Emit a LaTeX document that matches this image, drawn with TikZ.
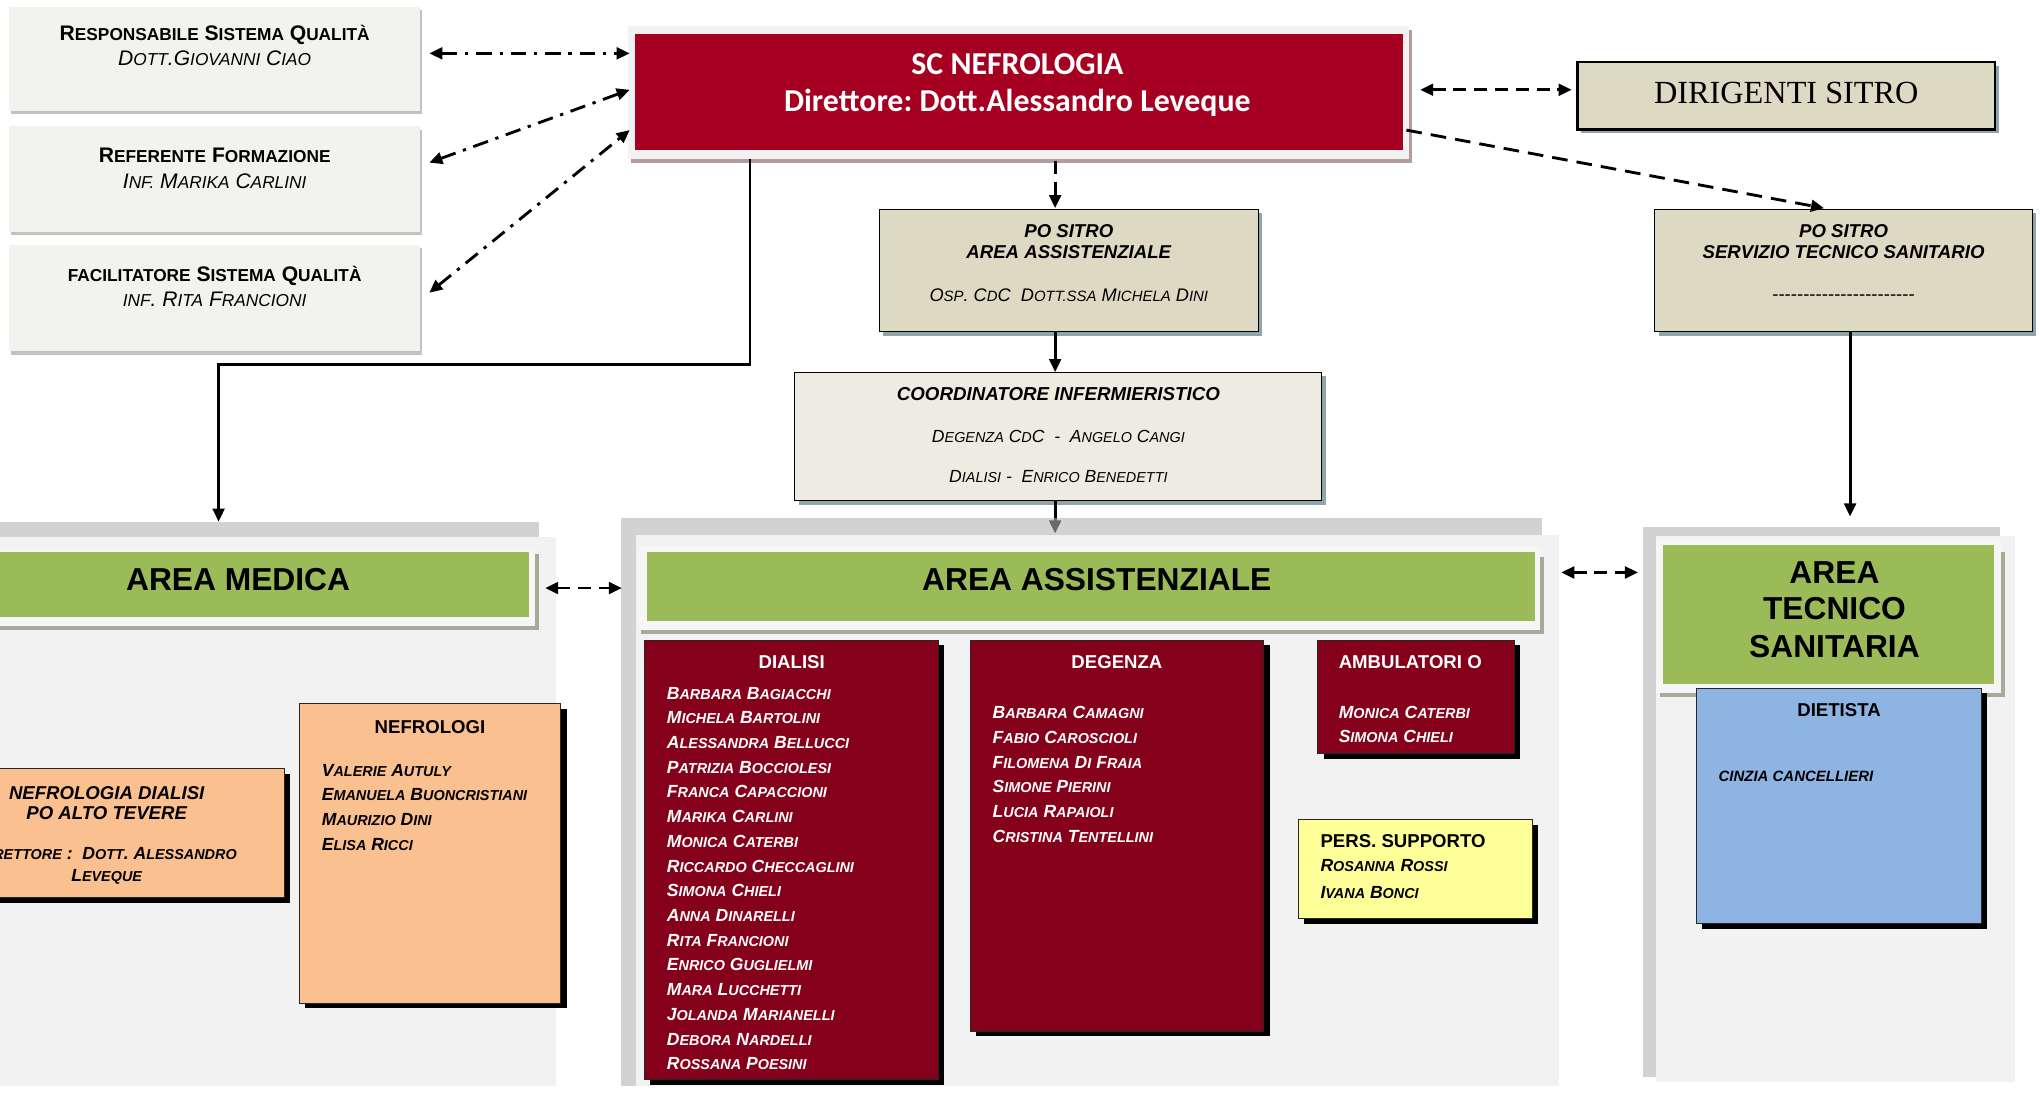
\documentclass[tikz,border=0pt]{standalone}
\usepackage{fontspec}
\setmainfont{Liberation Sans}
\newfontfamily\carlito{Carlito}
\newfontfamily\timesf{Liberation Serif}
\usetikzlibrary{arrows.meta,shadows,calc}
\frenchspacing
\definecolor{boxg}{HTML}{F2F2EE}
\definecolor{lgsh}{HTML}{C2C2C2}
\definecolor{frameg}{HTML}{F2F2F2}
\definecolor{scred}{HTML}{A50021}
\definecolor{scsh}{HTML}{B59C9C}
\definecolor{tan}{HTML}{DDD9C3}
\definecolor{tansh}{HTML}{8EA5AE}
\definecolor{coof}{HTML}{EEECE1}
\definecolor{pnlg}{HTML}{D2D2D2}
\definecolor{pnll}{HTML}{F2F2F2}
\definecolor{grn}{HTML}{9BBB59}
\definecolor{grnsh}{HTML}{A6AA96}
\definecolor{grnfr}{HTML}{F6F6F6}
\definecolor{dred}{HTML}{85001B}
\definecolor{orng}{HTML}{FAC090}
\definecolor{yell}{HTML}{FFFF99}
\definecolor{blu}{HTML}{8EB4E3}
\makeatletter
\newcommand\fsz[1]{\fontsize{#1}{#1}\selectfont}
\newcommand\sm[1]{{\fontsize{\fpeval{0.82*\f@size}}{\f@baselineskip}\selectfont\MakeUppercase{#1}}}
\def\SC#1{\SC@a#1 \@nil}
\def\SC@a#1 #2\@nil{\SC@w#1\@nil\ifx\relax#2\relax\else\space\SC@a#2\@nil\fi}
\def\SC@w#1#2\@nil{#1\sm{#2}}
\newcommand\SCx[1]{\expandafter\SC\expandafter{#1}}
\newcommand\hy{-{}}
\makeatother
\begin{document}
\begin{tikzpicture}[x=1pt,y=-1pt,
 every node/.style={inner sep=0pt,outer sep=0pt},
 rbox/.style={rectangle,anchor=north west},
 t/.style={anchor=base},
 tw/.style={anchor=base west},
 lsh/.style={drop shadow={shadow xshift=1.5pt,shadow yshift=-3pt,fill=lgsh,opacity=1}},
 bsh/.style={drop shadow={shadow xshift=4.5pt,shadow yshift=-4pt,fill=black,opacity=1}},
 tsh/.style={drop shadow={shadow xshift=3pt,shadow yshift=-3pt,fill=tansh,opacity=1}},
 lbox/.style={rbox,draw=black!85,line width=0.8pt,bsh},
 tip/.style={-{Triangle[length=10pt,width=9pt]}},
 tips/.style={{Triangle[length=10pt,width=9pt]}-{Triangle[length=10pt,width=9pt]}},
 conn/.style={line width=2.2pt},
 dd/.style={conn,dash pattern=on 12pt off 6pt on 2.5pt off 6pt},
 dsh/.style={conn,dash pattern=on 10pt off 6pt},
 ftitle/.style={font=\fsz{16.2}\bfseries},
 fsub/.style={font=\fsz{16.2}\itshape},
 fbi/.style={font=\fsz{14.3}\bfseries\itshape},
 fi/.style={font=\fsz{14}\itshape},
 fb/.style={font=\fsz{14.3}\bfseries},
 fname/.style={font=\fsz{13.5}\bfseries\itshape},
 farea/.style={font=\fsz{24.4}\bfseries},
]
\useasboundingbox (0,0) rectangle (1568,840);
\clip (0,0) rectangle (1568,840);
\fill[white] (0,0) rectangle (1568,840);

% ---------- panels ----------
\node[rbox,fill=pnlg,minimum width=454pt,minimum height=434pt] (medB) at (-40,401) {};
\node[rbox,fill=pnll,minimum width=467pt,minimum height=422pt] (med) at (-40,413) {};
\node[rbox,fill=pnlg,minimum width=708pt,minimum height=437pt] (assB) at (477,398) {};
\node[rbox,fill=pnll,minimum width=709pt,minimum height=424pt] (ass) at (489,411) {};
\node[rbox,fill=pnlg,minimum width=274pt,minimum height=423pt] (tecB) at (1263,405) {};
\node[rbox,fill=pnll,minimum width=276pt,minimum height=420pt] (tec) at (1273,412) {};

% green bars
\fill[grnsh] (-40,426) rectangle (414,484);
\fill[grnfr] (-40,421) rectangle (411,481);
\node[rbox,fill=grn,minimum width=446.5pt,minimum height=50pt] (medbar) at (-40,424) {};
\fill[grnsh] (493,428) rectangle (1187,487);
\fill[grnfr] (491,420) rectangle (1184,484);
\node[rbox,fill=grn,minimum width=683pt,minimum height=53pt] (assbar) at (497,424) {};
\fill[grnsh] (1276,424) rectangle (1541,536);
\fill[grnfr] (1273,414) rectangle (1538,533);
\node[rbox,fill=grn,minimum width=255pt,minimum height=107pt] (tecbar) at (1278,419) {};

\node[t,farea] (medt) at (183,453.5) {AREA MEDICA};
\node[t,farea] (asst) at (843,454) {AREA ASSISTENZIALE};
\node[t,farea] (tect1) at (1410,448.4) {AREA};
\node[t,farea] (tect2) at (1410,476.5) {TECNICO};
\node[t,farea] (tect3) at (1410,505.2) {SANITARIA};

% ---------- top left boxes ----------
\node[rbox,fill=boxg,lsh,minimum width=316pt,minimum height=80pt] (b1) at (7,5) {};
\node[rbox,fill=boxg,lsh,minimum width=316pt,minimum height=81pt] (b2) at (7,97) {};
\node[rbox,fill=boxg,lsh,minimum width=316pt,minimum height=82pt] (b3) at (7,188) {};
\node[t,ftitle] (b1t) at (165,31.5) {\SC{Responsabile Sistema Qualità}};
\node[t,fsub] (b1s) at (165,50.7) {D\sm{ott}.G\sm{iovanni} C\sm{iao}};
\node[t,ftitle] (b2t) at (165,124.8) {\SC{Referente Formazione}};
\node[t,fsub] (b2s) at (165,144.7) {\SC{Inf. Marika Carlini}};
\node[t,ftitle] (b3t) at (165,216.5) {\sm{facilitatore} S\sm{istema} Q\sm{ualità}};
\node[t,fsub] (b3s) at (165,235.7) {\sm{inf}. R\sm{ita} F\sm{rancioni}};

% ---------- SC Nefrologia ----------
\node[rbox,fill=frameg,drop shadow={shadow xshift=2pt,shadow yshift=-3pt,fill=scsh,opacity=1},minimum width=600pt,minimum height=102pt] (scf) at (483,20) {};
\node[rbox,fill=scred,minimum width=590pt,minimum height=89pt] (sc) at (488,26) {};
\node[t,font=\carlito\bfseries\fsz{24.5},text=white] (sct1) at (782,56.9) {SC NEFROLOGIA};
\node[t,font=\carlito\bfseries\fsz{24.5},text=white] (sct2) at (782,85.9) {Direttore: Dott.Alessandro Leveque};

% ---------- Dirigenti ----------
\node[rbox,fill=tan,draw=black,line width=1.8pt,tsh,minimum width=321pt,minimum height=52pt] (dir) at (1212.5,47.5) {};
\node[t,font=\timesf\fsz{24.8}] (dirt) at (1373,79.4) {DIRIGENTI SITRO};

% ---------- PO SITRO ----------
\node[rbox,fill=tan,draw=black,line width=0.8pt,tsh,minimum width=291pt,minimum height=94pt] (poa) at (676,161) {};
\node[t,fbi] (poa1) at (821.5,182.4) {PO SITRO};
\node[t,fbi] (poa2) at (821.5,198.6) {AREA ASSISTENZIALE};
\node[t,fi] (poa3) at (821.5,231.4) {O\sm{sp}. C\sm{d}C\ \ D\sm{ott.ssa} M\sm{ichela} D\sm{ini}};

\node[rbox,fill=tan,draw=black,line width=0.8pt,tsh,minimum width=290pt,minimum height=94pt] (pos) at (1272,161) {};
\node[t,fbi] (pos1) at (1417,182.4) {PO SITRO};
\node[t,fbi] (pos2) at (1417,198.6) {SERVIZIO TECNICO SANITARIO};
\node[t,font=\fsz{14.3}] (pos3) at (1417,231) {\hy\hy\hy\hy\hy\hy\hy\hy\hy\hy\hy\hy\hy\hy\hy\hy\hy\hy\hy\hy\hy\hy\hy};

% ---------- Coordinatore ----------
\node[rbox,fill=coof,draw=black,line width=0.8pt,tsh,minimum width=405pt,minimum height=99pt] (coo) at (611,286) {};
\node[t,font=\fsz{14.4}\bfseries\itshape] (coo1) at (813.5,307.5) {COORDINATORE INFERMIERISTICO};
\node[t,font=\fsz{13.5}\itshape] (coo2) at (813.5,340.3) {D\sm{egenza} C\sm{d}C\ \ -\ \ A\sm{ngelo} C\sm{angi}};
\node[t,font=\fsz{13.5}\itshape] (coo3) at (813.5,371) {D\sm{ialisi} -\ \ E\sm{nrico} B\sm{enedetti}};

% ---------- list boxes ----------
\node[lbox,fill=dred,minimum width=225.6pt,minimum height=338pt] (dia) at (495.4,492) {};
\node[t,fb,text=white] (diat) at (608.5,513.7) {DIALISI};
\foreach \n [count=\i from 0] in {Barbara Bagiacchi,Michela Bartolini,Alessandra Bellucci,Patrizia Bocciolesi,Franca Capaccioni,Marika Carlini,Monica Caterbi,Riccardo Checcaglini,Simona Chieli,Anna Dinarelli,Rita Francioni,Enrico Guglielmi,Mara Lucchetti,Jolanda Marianelli,Debora Nardelli,Rossana Poesini}
  \node[tw,fname,text=white] (dia\i) at (512.6,{537.3+19*\i}) {\SCx{\n}};

\node[lbox,fill=dred,minimum width=225.7pt,minimum height=300.5pt] (deg) at (745.7,492) {};
\node[t,fb,text=white] (degt) at (858.5,513.7) {DEGENZA};
\foreach \n [count=\i from 0] in {Barbara Camagni,Fabio Caroscioli,Filomena Di Fraia,Simone Pierini,Lucia Rapaioli,Cristina Tentellini}
  \node[tw,fname,text=white] (deg\i) at (763,{552.1+19.1*\i}) {\SCx{\n}};

\node[lbox,fill=dred,minimum width=151pt,minimum height=87pt] (amb) at (1013,492) {};
\node[tw,fb,text=white] (ambt) at (1029,513.7) {AMBULATORI O};
\node[tw,fname,text=white] (amb0) at (1029,552) {\SC{Monica Caterbi}};
\node[tw,fname,text=white] (amb1) at (1029,571) {\SC{Simona Chieli}};

\node[lbox,fill=yell,minimum width=180pt,minimum height=76pt] (sup) at (998,630) {};
\node[tw,fb] (supt) at (1015,651.3) {PERS. SUPPORTO};
\node[tw,fname] (sup0) at (1015,670) {\SC{Rosanna Rossi}};
\node[tw,fname] (sup1) at (1015,690.5) {\SC{Ivana Bonci}};

\node[lbox,fill=orng,minimum width=201pt,minimum height=230pt] (nef) at (230,541) {};
\node[t,fb] (neft) at (330.5,563.7) {NEFROLOGI};
\node[tw,fname] (nef0) at (247.4,596.5) {\SC{Valerie Autuly}};
\node[tw,fname] (nef1) at (247.4,615.4) {\SC{Emanuela Buoncristiani}};
\node[tw,fname] (nef2) at (247.4,634.6) {\SC{Maurizio Dini}};
\node[tw,fname] (nef3) at (247.4,653.9) {\SC{Elisa Ricci}};

\node[lbox,fill=orng,minimum width=274.7pt,minimum height=99pt] (ndi) at (-56,591) {};
\node[t,fbi] (ndi1) at (82,614.4) {NEFROLOGIA DIALISI};
\node[t,fbi] (ndi2) at (82,629.8) {PO ALTO TEVERE};
\node[t,fname] (ndi3) at (82,661) {D\sm{irettore} :\ \ D\sm{ott}. A\sm{lessandro}};
\node[t,fname] (ndi4) at (82,677.7) {L\sm{eveque}};

\node[lbox,fill=blu,minimum width=219pt,minimum height=181pt] (die) at (1304,529) {};
\node[t,fb] (diet) at (1413.5,551) {DIETISTA};
\node[tw,font=\fsz{11.5}\bfseries\itshape] (die0) at (1321,600.8) {CINZIA CANCELLIERI};

% ---------- connectors ----------
\draw[dd,tips] ($(b1.north east)+(7,36)$) -- ($(scf.north west)+(1,21)$);
\draw[dd,tips] ($(b2.north east)+(7,28)$) -- ($(scf.north west)+(1,49)$);
\draw[dd,tips] ($(b3.north east)+(7,37)$) -- ($(scf.north west)+(1,80)$);
\draw[dsh,tips] ($(scf.north east)+(8.6,49)$) -- ($(dir.north west)+(-4.5,21.5)$);
\draw[conn,dash pattern=on 12pt off 7pt,tip] ($(scf.north east)+(-2,80)$) -- ($(pos.north west)+(130,-1)$);
\draw[dsh,tip] ($(scf.north west)+(328,104)$) -- ($(poa.north west)+(135,-1)$);
\draw[conn,tip] ($(poa.south west)+(135,0)$) -- ($(coo.north west)+(200,0)$);
\draw[conn,tip] ($(coo.south west)+(200,0)$) -- ($(assB.north west)+(334,12)$);
\fill[pnlg,opacity=0.5] (477,398) rectangle (1185,411);
\draw[conn,tip] ($(pos.south west)+(150,0)$) -- ($(tecB.north west)+(159,-8)$);
\draw[conn,tip] ($(scf.south west)+(93.5,0)$) -- ++(0,158) -| ($(medB.north west)+(208,0)$);
\draw[dsh,tips] ($(med.north east)+(-8,39)$) -- ($(assB.north west)+(1,54)$);
\draw[dsh,tips] ($(ass.north east)+(2,29)$) -- ($(tecB.north west)+(-4,35)$);
\end{tikzpicture}
\end{document}
